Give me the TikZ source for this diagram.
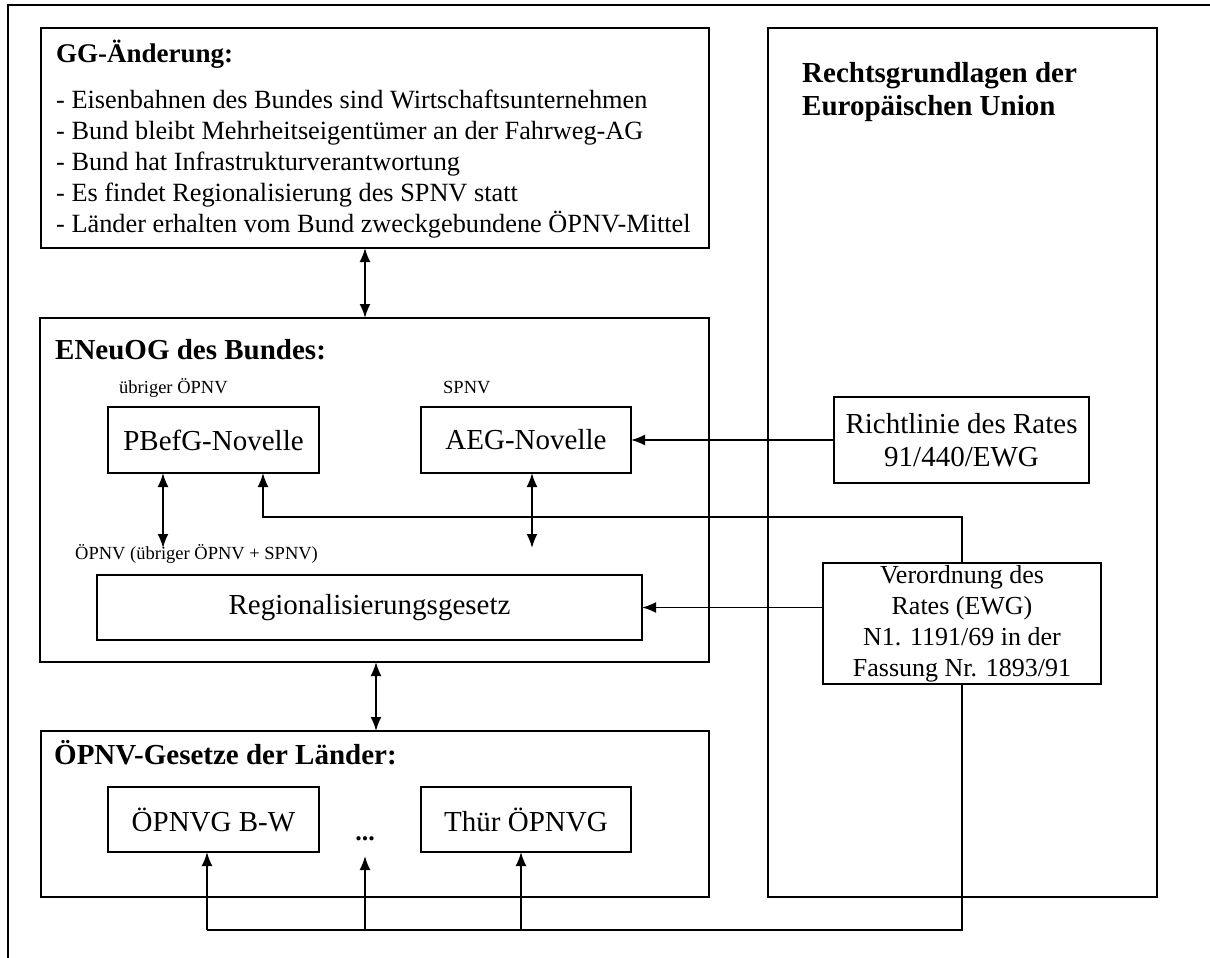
\documentclass[tikz,border=0pt]{standalone}
\usepackage{fontspec}
\setmainfont{Liberation Serif}
\usetikzlibrary{arrows.meta}
\begin{document}
\begin{tikzpicture}[x=1pt,y=-1pt,
  frame/.style={draw, line width=1.8pt, inner sep=0pt, outer sep=0pt},
  law/.style={frame, font=\fontsize{29}{33}\selectfont, align=center},
  lawsm/.style={frame, font=\fontsize{26}{31}\selectfont, align=center},
  ttl/.style={anchor=base west, inner sep=0pt, font=\bfseries\fontsize{29}{33}\selectfont},
  item/.style={anchor=base west, inner sep=0pt, font=\fontsize{26.3}{31}\selectfont},
  small/.style={anchor=base west, inner sep=0pt, font=\fontsize{18.5}{22}\selectfont},
  conn/.style={line width=1.9pt},
  tip/.style={-{Latex[length=14pt,width=11pt]}},
  dtip/.style={{Latex[length=14pt,width=11pt]}-{Latex[length=14pt,width=11pt]}}
]
\useasboundingbox (0,0) rectangle (1210,958);
% outer frame (cut off at right and bottom)
\draw[line width=1.6pt] (8,962) -- (8,5) -- (1214,5);

% container boxes
\node[frame, minimum width=668pt, minimum height=220pt] (gg) at (375,138) {};
\node[frame, minimum width=669pt, minimum height=344pt] (en) at (374.5,490) {};
\node[frame, minimum width=668pt, minimum height=166pt] (la) at (375,814) {};
\node[frame, minimum width=389pt, minimum height=869pt] (eu) at (962.5,462.5) {};

% GG text
\node[ttl, font=\bfseries\fontsize{27}{31}\selectfont] (ggt) at (56,63) {GG-Änderung:};
\node[item] (g1) at (56,108) {- Eisenbahnen des Bundes sind Wirtschaftsunternehmen};
\node[item] (g2) at (56,139) {- Bund bleibt Mehrheitseigentümer an der Fahrweg-AG};
\node[item] (g3) at (56,170) {- Bund hat Infrastrukturverantwortung};
\node[item] (g4) at (56,201) {- Es findet Regionalisierung des SPNV statt};
\node[item] (g5) at (56,232) {- Länder erhalten vom Bund zweckgebundene ÖPNV-Mittel};

% EN
\node[ttl] (ent) at (55,359) {ENeuOG des Bundes:};
\node[small] (lb1) at (119,393) {übriger ÖPNV};
\node[small] (lb2) at (443,393) {SPNV};
\node[small] (lb3) at (75,559) {ÖPNV (übriger ÖPNV + SPNV)};
\node[law, minimum width=211pt, minimum height=66pt] (pb) at (213.5,440) {PBefG-Novelle};
\node[law, minimum width=210pt, minimum height=66pt] (aeg) at (526,440) {AEG-Novelle};
\node[law, minimum width=545pt, minimum height=65pt] (rg) at (369.5,607.5) {Regionalisierungsgesetz};

% EU
\node[ttl] (eut1) at (802,82) {Rechtsgrundlagen der};
\node[ttl] (eut2) at (802,115) {Europäischen Union};
\node[law, minimum width=255pt, minimum height=86pt] (rl) at (961.5,440) {Richtlinie des Rates\\91/440/EWG};
\node[lawsm, minimum width=278pt, minimum height=121pt] (vo) at (962,623.5) {Verordnung des\\Rates (EWG)\\N1. 1191/69 in der\\Fassung Nr. 1893/91};

% Laender
\node[ttl] (lat) at (54,764) {ÖPNV-Gesetze der Länder:};
\node[law, minimum width=211pt, minimum height=65pt] (bw) at (213.5,819.5) {ÖPNVG B-W};
\node[law, minimum width=210pt, minimum height=65pt] (th) at (526,819.5) {Thür ÖPNVG};
\node[anchor=base, inner sep=0pt, font=\bfseries\fontsize{26}{31}\selectfont] (dots) at (365,840) {...};

% helper coordinates
\coordinate (xa) at (365,0);
\coordinate (xb) at (376,0);
\coordinate (e1) at (163,548);
\coordinate (e2) at (532,548);
\coordinate (j1) at (263,517);
\coordinate (b1) at (207,930);
\coordinate (b2) at (365,930);
\coordinate (b3) at (521,930);
\coordinate (de) at (365,856);

% connectors
\draw[conn, dtip] (xa |- gg.south) -- (xa |- en.north);
\draw[conn, dtip] (xb |- en.south) -- (xb |- la.north);
\draw[conn, tip] (rl.west) -- (aeg.east);
\draw[conn, tip] (vo.west |- rg.east) -- (rg.east);
\draw[conn, tip] (vo.north) |- (j1) -- (j1 |- pb.south);
\draw[conn, dtip] (e1 |- pb.south) -- (e1);
\draw[conn, dtip] (e2 |- aeg.south) -- (e2);
\draw[conn] (vo.south) |- (b1);
\draw[conn, tip] (b1) -- (b1 |- bw.south);
\draw[conn, tip] (b2) -- (de);
\draw[conn, tip] (b3) -- (b3 |- th.south);
\end{tikzpicture}
\end{document}
